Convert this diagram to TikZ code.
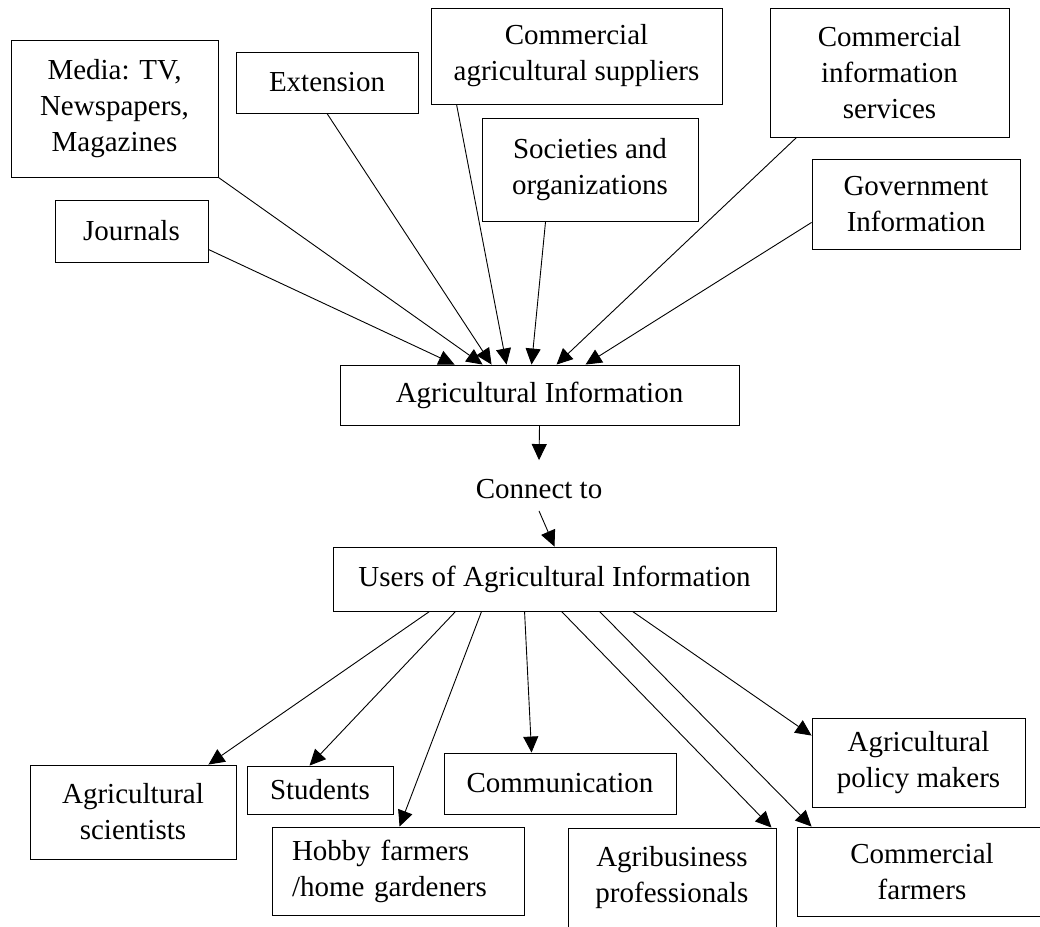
\documentclass[tikz,border=0pt]{standalone}
\usepackage{fontspec}
\setmainfont{Liberation Serif}
\usetikzlibrary{arrows.meta,calc}
\begin{document}
\begin{tikzpicture}[x=1pt,y=-1pt,
  tx/.style={font=\fontsize{29}{36}\selectfont},
  box/.style={tx, draw, line width=0.9pt, inner sep=0pt, align=center},
  arr/.style={-{Triangle[length=16pt,width=15pt]}, line width=0.9pt}]
\useasboundingbox (0,0) rectangle (1040,926);
% sources
\node[box,minimum width=207pt,minimum height=137pt] (media) at (114.5,108.5) {Media: TV,\\Newspapers,\\Magazines};
\node[box,minimum width=182pt,minimum height=61pt] (ext) at (327,82.5) {Extension};
\node[box,minimum width=153pt,minimum height=62pt] (journals) at (131.5,231) {Journals};
\node[box,minimum width=291pt,minimum height=96pt] (cas) at (576.5,56) {Commercial\\agricultural suppliers};
\node[box,minimum width=216pt,minimum height=103pt] (soc) at (590,169.5) {Societies and\\organizations};
\node[box,minimum width=239pt,minimum height=129pt] (cis) at (889.5,72.5) {Commercial\\information\\services};
\node[box,minimum width=208pt,minimum height=90pt] (gov) at (916,204) {Government\\Information};
% center
\node[box,minimum width=399pt,minimum height=60pt] (ai) at (539.5,395) {Agricultural Information};
\node[tx,inner sep=0pt] (conn) at (539,489) {Connect to};
\node[box,minimum width=443pt,minimum height=64pt] (users) at (554.5,579) {Users of Agricultural Information};
% users
\node[box,minimum width=206pt,minimum height=94pt] (sci) at (133,812) {Agricultural\\scientists};
\node[box,minimum width=146pt,minimum height=48pt] (stud) at (320,790) {Students};
\node[box,minimum width=232pt,minimum height=61pt] (comm) at (560,783.5) {Communication};
\node[box,text width=212pt,inner xsep=20pt,minimum height=88pt,align=left] (hobby) at (398,871) {Hobby farmers\\/home gardeners};
\node[box,minimum width=213pt,minimum height=89pt] (policy) at (918.5,762.5) {Agricultural\\policy makers};
\node[box,minimum width=208pt,minimum height=100pt] (agri) at (672,878) {Agribusiness\\professionals};
\node[box,minimum width=250pt,minimum height=89pt] (cfarm) at (922,871.5) {Commercial\\farmers};
% arrows in
\draw[arr] ($(journals.south east)+(0,-13)$) -- ($(ai.north west)+(115,0)$);
\draw[arr] (media.south east) -- ($(ai.north west)+(143,0)$);
\draw[arr] (ext.south) -- ($(ai.north west)+(152,0)$);
\draw[arr] ($(cas.south west)+(26,0)$) -- ($(ai.north west)+(167,0)$);
\draw[arr] ($(soc.south west)+(64,0)$) -- ($(ai.north west)+(192,0)$);
\draw[arr] ($(cis.south west)+(27,0)$) -- ($(ai.north west)+(217,0)$);
\draw[arr] ($(gov.south west)+(0,-27)$) -- ($(ai.north west)+(246,0)$);
% middle
\draw[arr] (ai.south) -- ($(conn.north)+(0,-19)$);
\draw[arr] ($(conn.south)+(0,12)$) -- (users.north);
% arrows out
\draw[arr] ($(users.south west)+(97,0)$) -- ($(sci.north east)+(-28,0)$);
\draw[arr] ($(users.south west)+(123,0)$) -- ($(stud.north west)+(63,0)$);
\draw[arr] ($(users.south west)+(149,0)$) -- ($(hobby.north west)+(128,0)$);
\draw[arr] ($(users.south west)+(192,0)$) -- ($(comm.north west)+(88,0)$);
\draw[arr] ($(users.south west)+(229,0)$) -- ($(agri.north east)+(-5,0)$);
\draw[arr] ($(users.south west)+(267,0)$) -- ($(cfarm.north west)+(15,0)$);
\draw[arr] ($(users.south west)+(300,0)$) -- ($(policy.north west)+(0,18)$);
\end{tikzpicture}
\end{document}
